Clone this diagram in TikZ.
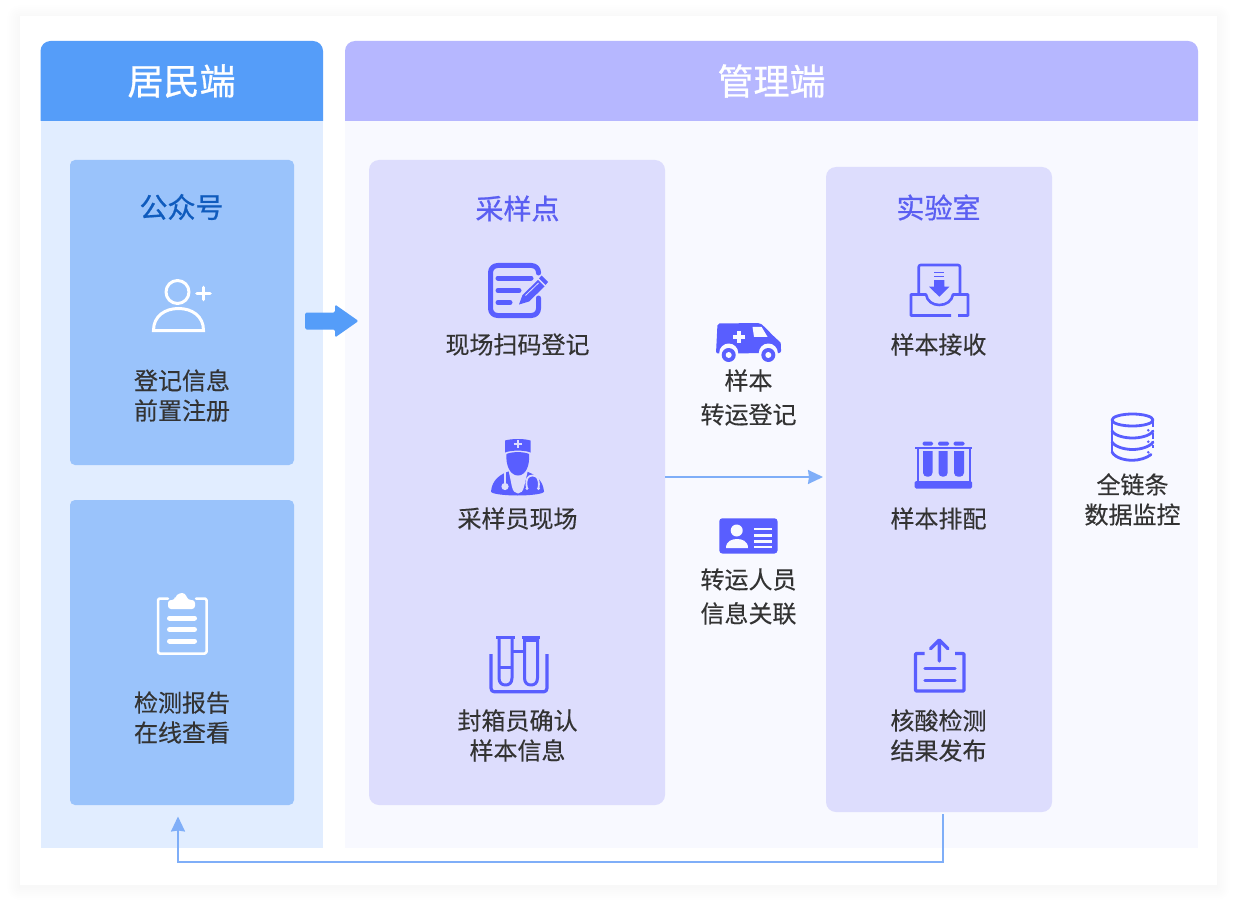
\documentclass[tikz,border=0pt]{standalone}
\usepackage{fontspec}
\setmainfont{Noto Sans CJK SC}[FakeBold=0.3]
\newfontfamily\titlefont{Noto Sans CJK SC}[FakeBold=0.8]
\usetikzlibrary{arrows.meta}
\definecolor{hdL}{HTML}{559DF9}
\definecolor{bodyL}{HTML}{E1EDFF}
\definecolor{innerL}{HTML}{9AC3FB}
\definecolor{hdR}{HTML}{B6B7FF}
\definecolor{bodyR}{HTML}{F8F9FF}
\definecolor{innerR}{HTML}{DDDDFD}
\definecolor{ind}{HTML}{595EFF}
\definecolor{txt}{HTML}{333333}
\definecolor{conn}{HTML}{7FAEF8}
\definecolor{titleblue}{HTML}{0F5BBD}
\definecolor{titleind}{HTML}{5A5EF2}
\tikzset{
  box/.style={inner sep=0pt,outer sep=0pt,rounded corners=#1},
  lbl/.style={text=txt,align=center,inner sep=0pt,font=\fontsize{24}{30}\selectfont},
  lblw/.style={text=txt,align=center,inner sep=0pt,font=\fontsize{24}{34}\selectfont},
  head/.style={text=white,inner sep=0pt,font=\titlefont\fontsize{36}{40}\selectfont},
  sub/.style={inner sep=0pt,font=\titlefont\fontsize{28}{32}\selectfont},
  flow/.style={draw=conn,line width=1.6pt,-{Stealth[length=15pt,width=14pt,inset=1pt]}},
  ico/.style={draw=ind,line width=#1,fill=none,line cap=round,line join=round},
  icow/.style={draw=white,line width=#1,fill=none,line cap=round,line join=round}
}
\begin{document}
\begin{tikzpicture}[x=1pt,y=-1pt]
\useasboundingbox (0,0) rectangle (1236,901);
\fill[white] (0,0) rectangle (1236,901);
% card shadow
\foreach \d in {1,3,...,13}{
  \fill[black,opacity=0.002,rounded corners=\d pt] (20-\d,16-\d+2) rectangle (1217+\d,885+\d+2);
}
\fill[white] (20,16) rectangle (1217,885);
% panels
\fill[bodyL] (40.5,121) rectangle (323,848);
\fill[hdL] (40.5,121) [rounded corners=10pt] -- (40.5,41) -- (323,41) [sharp corners] -- (323,121) -- cycle;
\fill[bodyR] (345,121) rectangle (1198,848);
\fill[hdR] (345,121) [rounded corners=10pt] -- (345,41) -- (1198,41) [sharp corners] -- (1198,121) -- cycle;
\node[head] (resident) at (181.5,81) {居民端};
\node[head] (manager) at (771.5,81) {管理端};
% inner boxes
\node[box=5pt,fill=innerL,minimum width=224pt,minimum height=305pt] (pub) at (182,312.5) {};
\node[box=5pt,fill=innerL,minimum width=224pt,minimum height=305pt] (report) at (182,652.5) {};
\node[box=10pt,fill=innerR,minimum width=296pt,minimum height=645pt] (sampling) at (517,482.5) {};
\node[box=10pt,fill=innerR,minimum width=226pt,minimum height=645pt] (lab) at (939,489.5) {};
% titles and labels
\node[sub,text=titleblue] (t1) at (181.5,207) {公众号};
\node[sub,text=titleind] (t2) at (517.5,208.5) {采样点};
\node[sub,text=titleind] (t3) at (938.5,207.5) {实验室};
\node[lbl] (a1) at (182,395.5) {登记信息\\前置注册};
\node[lbl] (a2) at (182,717.5) {检测报告\\在线查看};
\node[lbl] (b1) at (517.5,344.5) {现场扫码登记};
\node[lbl] (b2) at (517.5,518.5) {采样员现场};
\node[lbl] (b3) at (517.5,735.5) {封箱员确认\\样本信息};
\node[lblw] (c1) at (748.5,397.5) {样本\\转运登记};
\node[lblw] (c2) at (748.5,596.5) {转运人员\\信息关联};
\node[lbl] (d1) at (938.5,344.5) {样本接收};
\node[lbl] (d2) at (938.5,518.5) {样本排配};
\node[lbl] (d3) at (938.5,735.5) {核酸检测\\结果发布};
\node[lbl] (e1) at (1132.5,499.5) {全链条\\数据监控};
% connectors
\draw[flow,shorten >=3pt] (sampling.east |- 0,477) -- (lab.west |- 0,477);
\coordinate (bendA) at (942.7,862);
\coordinate (bendB) at (178,862);
\draw[flow,shorten <=2pt,shorten >=11.5pt] (lab.south -| bendA) -- (bendA) -- (bendB) -- (report.south -| bendB);
% big arrow
\fill[hdL,rounded corners=1.5pt] (305,312.5) -- (335,312.5) -- (335,304.5) -- (358.5,321) -- (335,337.5) -- (335,329.5) -- (305,329.5) -- cycle;
% person plus
\draw[icow=3pt] (177.5,292) circle[radius=11.5];
\draw[icow=3.6pt] (197,293.5) -- (210,293.5) (203.5,287.5) -- (203.5,299.5);
\draw[icow=3pt,line cap=butt,line join=miter] (153.5,330.5) .. controls (153.5,316) and (165,308.5) .. (178.5,308.5) .. controls (192,308.5) and (203.5,316) .. (203.5,330.5) -- cycle;
% clipboard
\draw[icow=2.5pt,rounded corners=1.5pt] (168,598.5) -- (158,598.5) -- (158,653.5) -- (206.5,653.5) -- (206.5,598.5) -- (196,598.5);
\fill[white,rounded corners=3pt] (168,600) -- (175,600) -- (175,597) -- (179,593) -- (185,593) -- (188,600) -- (195,600) -- (195,609) -- (168,609) -- cycle;
\draw[icow=5pt] (169.5,618) -- (194.5,618) (169.5,629.5) -- (194.5,629.5) (169.5,641) -- (194.5,641);
% form / pencil
\draw[ico=5pt,rounded corners=7pt] (538.5,273) -- (538.5,265.5) -- (490.5,265.5) -- (490.5,315.5) -- (538.5,315.5) -- (538.5,298);
\draw[ico=5pt] (498,278) -- (531,278) (498,290.5) -- (519,290.5) (498,302.5) -- (510,302.5);
\fill[ind] (538,280) -- (544.5,286.5) -- (529,301.5) -- (519,304.5) -- (522.5,295) -- cycle;
\fill[ind] (541.5,275.5) -- (548,282) -- (545.5,285) -- (539,278.5) -- cycle;
\draw[innerR,line width=.8pt] (525.5,295.5) -- (538.5,283);
% doctor
\fill[ind] (491,491.5) .. controls (492,480) and (500,474) .. (510,471) -- (525,471) .. controls (535,474) and (543,480) .. (544,491.5) .. controls (544,494) and (530,495.5) .. (517.5,495.5) .. controls (505,495.5) and (491,494) .. (491,491.5) -- cycle;
\fill[innerR] (508.5,470) -- (512,487) .. controls (513,491) and (515,493.5) .. (518,493.5) .. controls (521,493.5) and (523,491) .. (524,487) -- (528,470) -- cycle;
\fill[ind] (505,440.5) .. controls (512,438.5) and (524,438.5) .. (530.5,440.5) -- (530.5,452.5) .. controls (525,450) and (511,450) .. (505,452.5) -- cycle;
\fill[ind] (506.5,454) .. controls (512,451.5) and (524,451.5) .. (529,454) .. controls (530,465) and (526,475.5) .. (518,475.5) .. controls (510,475.5) and (505.5,465) .. (506.5,454) -- cycle;
\draw[innerR,line width=1.6pt] (513.5,444) -- (522,444) (517.7,440) -- (517.7,448);
\draw[innerR,line width=1.5pt] (505,472) -- (505,484);
\fill[innerR] (505,486.5) circle[radius=3.6];
\draw[innerR,line width=1.8pt] (527,488) .. controls (525,479) and (528,475.5) .. (532.5,475.5) .. controls (537,475.5) and (540,479) .. (538.5,488);
\fill[innerR] (527,488.5) circle[radius=1.6] (538.5,488.5) circle[radius=1.6];
% test tubes
\draw[ico=3.2pt,line cap=butt] (491,654) -- (491,688) .. controls (491,690) and (492,691.7) .. (494,691.7) -- (544,691.7) .. controls (546,691.7) and (547,690) .. (547,688) -- (547,654);
\draw[ico=3pt,line cap=butt] (496,637) -- (514.5,637) (521.5,637) -- (539.5,637);
\draw[ico=3pt,line cap=butt] (499,637) -- (499,678) .. controls (499,683) and (502,685) .. (505.5,685) .. controls (509,685) and (512,683) .. (512,678) -- (512,637);
\draw[ico=3pt,line cap=butt] (524.5,637) -- (524.5,678) .. controls (524.5,683) and (527.5,685) .. (531,685) .. controls (534.5,685) and (537.5,683) .. (537.5,678) -- (537.5,637);
\draw[ico=3pt,line cap=butt] (512,651.7) -- (524.5,651.7) (499,667) -- (512,667) (524.5,640.5) -- (537.5,640.5);
% van
\fill[ind,rounded corners=2pt] (717.5,323.5) -- (760,323) .. controls (766,328) and (772,335) .. (779,341) .. controls (781,343) and (781,350) .. (781,353) -- (716,353.5) -- cycle;
\fill[bodyR] (752.5,326.8) -- (761.5,326.8) -- (767.5,336.8) -- (754,336.8) -- cycle;
\draw[bodyR,line width=3.6pt] (733,336.8) -- (745,336.8) (739,330.8) -- (739,342.8);
\fill[bodyR] (728.7,353) circle[radius=9.5] (768.3,353) circle[radius=9.5];
\fill[bodyR] (715,354) rectangle (782,363);
\fill[ind] (728.7,355) circle[radius=7] (768.3,355) circle[radius=7];
\fill[bodyR] (728.7,355) circle[radius=3] (768.3,355) circle[radius=3];
% id card
\fill[ind,rounded corners=3pt] (719.3,518.3) rectangle (777.5,553.5);
\fill[bodyR] (736.7,530.5) circle[radius=6];
\fill[bodyR] (726,548) .. controls (726,541) and (732,539) .. (737,539) .. controls (742,539) and (748,541) .. (748,548) -- cycle;
\foreach \yy in {529,535.5,541.5,547}{\draw[bodyR,line width=2.6pt] (754.3,\yy) -- (771.7,\yy);}
% inbox
\draw[ico=2.6pt,line cap=butt,rounded corners=2pt] (918.7,294) -- (918.7,265) -- (960,265) -- (960,294);
\draw[ico=2.6pt,line cap=butt] (958,315.5) -- (968,315.5) -- (968,294.5) -- (960,294.5) -- (953,294.5) .. controls (952,301) and (946,305) .. (939.3,305) .. controls (932.5,305) and (927,301) .. (926,294.5) -- (911,294.5) -- (911,315.5) -- (951,315.5);
\fill[ind] (934,280) -- (944.3,280) -- (944.3,286.7) -- (949.3,286.7) -- (939.3,296.7) -- (929,286.7) -- (934,286.7) -- cycle;
\draw[ind,line width=1.4pt] (934,272.7) -- (944.3,272.7) (934,276.7) -- (944.3,276.7);
% rack
\draw[ind,line width=2pt] (915,448.2) -- (972,448.2) (917.5,448.2) -- (917.5,484) (969.5,448.2) -- (969.5,484);
\foreach \xa/\xb in {922.5/933,938/949,953.5/964.5}{
  \fill[ind,rounded corners=1.5pt] (\xa,441.7) rectangle (\xb,445.6);
}
\foreach \xa/\xb in {923/932.5,938.5/947.7,954/964}{
  \fill[ind] (\xa,451) [rounded corners=4pt] -- (\xa,476.7) -- (\xb,476.7) [sharp corners] -- (\xb,451) -- cycle;
}
\fill[ind,rounded corners=1.5pt] (914.7,481) rectangle (972,488.5);
% upload
\draw[ico=3.4pt,line cap=butt,rounded corners=1pt] (924.5,653.5) -- (915.5,653.5) -- (915.5,691) -- (964,691) -- (964,653.5) -- (955,653.5);
\draw[ico=3.4pt] (939.3,641) -- (939.3,661) (930.5,648.7) -- (939.3,640) -- (948,648.7);
\draw[ico=3.4pt] (925,668.3) -- (955,668.3) (925,680.7) -- (955,680.7);
% database
\draw[ico=2.8pt] (1132.5,420) ellipse[x radius=20.5,y radius=6];
\draw[ico=2.8pt,line cap=butt] (1112,420) -- (1112,451);
\draw[ico=2.8pt,line cap=butt] (1153,420) -- (1153,427);
\draw[ico=2.8pt,line cap=butt] (1153,433) -- (1153,438.5);
\draw[ico=2.8pt,line cap=butt] (1153,444.5) -- (1153,448);
\draw[ico=2.8pt] (1112,431) .. controls (1115,436) and (1125,438) .. (1132.5,438) .. controls (1140,438) and (1150,436) .. (1153,431);
\draw[ico=2.8pt] (1112,442) .. controls (1115,447) and (1125,449.5) .. (1132.5,449.5) .. controls (1140,449.5) and (1150,447) .. (1153,442);
\draw[ico=2.8pt] (1112,452) .. controls (1115,458) and (1125,460.3) .. (1132.5,460.3) .. controls (1139,460.3) and (1147,458) .. (1151,454.5);
\fill[ind] (1148.3,430.3) circle[radius=1.4] (1148.3,441.7) circle[radius=1.4] (1148.3,452.3) circle[radius=1.4];
\end{tikzpicture}
\end{document}
